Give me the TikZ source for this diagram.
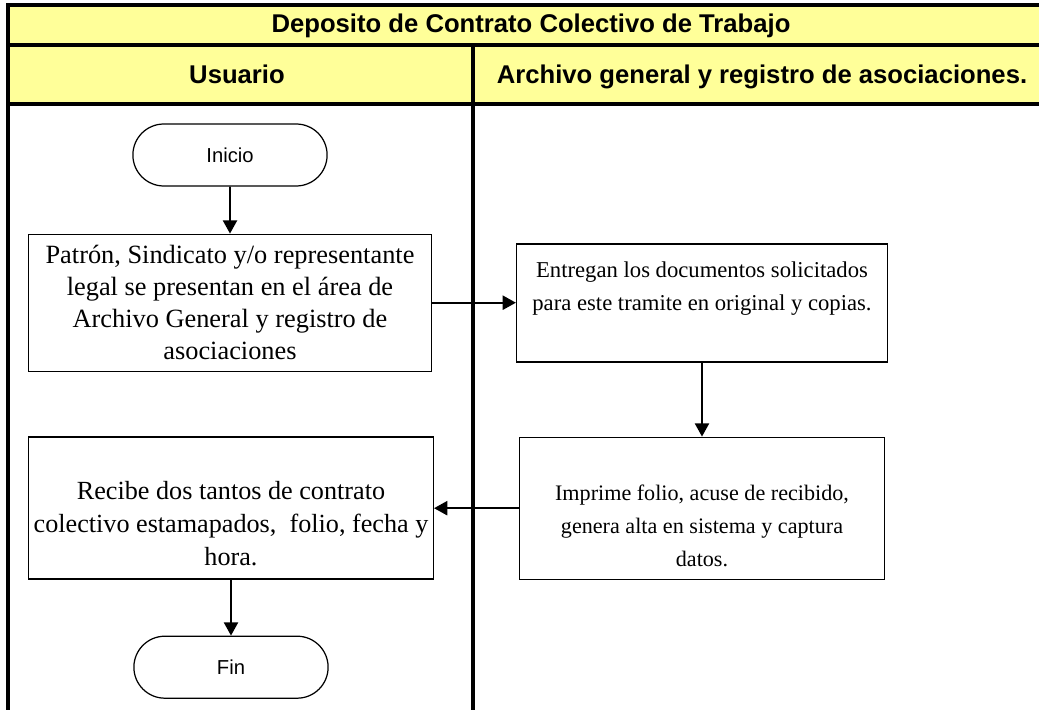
\documentclass[tikz,border=0pt]{standalone}
\usepackage{fontspec}
\setmainfont{Liberation Serif}
\setsansfont{Liberation Sans}
\usepackage{tikz}
\usetikzlibrary{positioning}
\usetikzlibrary{shapes,shapes.geometric,shapes.misc,arrows.meta}
\definecolor{laneyellow}{RGB}{255,255,153}
\tikzstyle{heading} = [draw=none, fill=none, text centered, text height=10.5pt, text depth=3pt, font=\sffamily\bfseries\fontsize{14.6}{16}\selectfont]
\tikzstyle{terminal} = [rounded rectangle, draw, line width=0.7pt, minimum width=4.12cm, minimum height=1.24cm, font=\sffamily\fontsize{11.5}{13}\selectfont]
\tikzstyle{process} = [rectangle, draw, line width=0.7pt, align=center, inner xsep=2pt]
\tikzstyle{flow} = [draw, line width=1.1pt, -{Triangle[length=7.5pt,width=8pt]}]
\tikzstyle{frame} = [draw, line width=1.8pt]

\begin{document}
\begin{tikzpicture}[x=0.02cm, y=-0.02cm]
	\useasboundingbox (0,0) rectangle (1039,710);
	% lanes
	\fill [laneyellow] (8,5) rectangle (1039,104);
	\path [frame] (1039,5) -- (8,5) -- (8,710);
	\path [frame] (8,45) -- (1039,45);
	\path [frame] (8,104) -- (1039,104);
	\path [frame] (473,45) -- (473,710);
	% title nodes
	\node [heading] (T0) at (531,26) {Deposito de Contrato Colectivo de Trabajo};
	\node [heading] (T1) at (237,77) {Usuario};
	\node [heading] (T2) at (762,77) {Archivo general y registro de asociaciones.};
	% place nodes
	\node [terminal] (S) at (230,155) {Inicio};
	\node [process, below=0.94cm of S, minimum width=8.06cm, minimum height=2.74cm,
		font=\fontsize{15}{18.3}\selectfont] (P1)
		{Patrón, Sindicato y/o representante\\ legal se presentan en el área de\\ Archivo General y registro de\\ asociaciones};
	\node [process, minimum width=7.42cm, minimum height=2.36cm,
		font=\fontsize{12.9}{18.8}\selectfont] (P2) at (702,303)
		{Entregan los documentos solicitados\\ para este tramite en original y copias.\\ ~};
	\node [process, below=1.48cm of P2, minimum width=7.3cm, minimum height=2.84cm,
		font=\fontsize{12.6}{18.8}\selectfont] (P3)
		{~\\[0.34cm] Imprime folio, acuse de recibido,\\ genera alta en sistema y captura\\ datos.};
	\node [process, minimum width=8.1cm, minimum height=2.84cm,
		font=\fontsize{14.9}{18.8}\selectfont] (P4) at (231,508)
		{~\\[0.34cm] Recibe dos tantos de contrato\\ colectivo estamapados,~ folio, fecha y\\ hora.};
	\node [terminal, below=1.12cm of P4] (E) {Fin};

	% draw edges
	\path [flow] (S) -- (P1);
	\path [flow] (P1.east) -- (P1.east -| P2.west);
	\path [flow] (P2) -- (P3);
	\path [flow] (P3.west) -- (P3.west -| P4.east);
	\path [flow] (P4) -- (E);
\end{tikzpicture}
\end{document}
